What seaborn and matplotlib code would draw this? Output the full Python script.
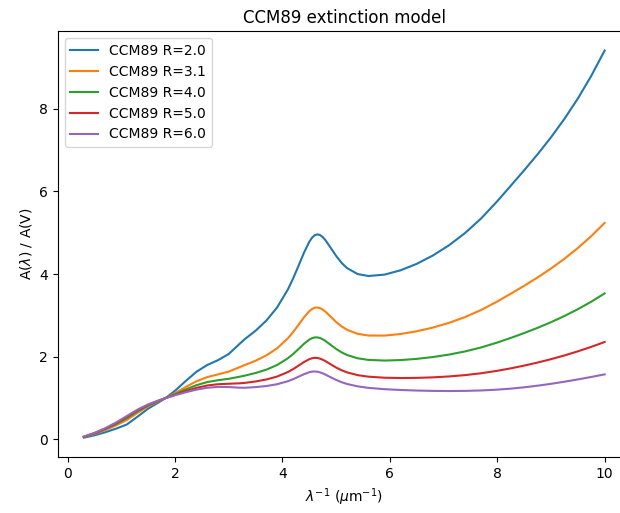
import matplotlib
matplotlib.use("Agg")
import matplotlib.pyplot as plt
import seaborn as sns
import numpy as np
import pandas as pd

# Inverse wavelength grid (1/micron)
wavenumber = [0.3, 0.5, 0.7, 0.9, 1.1, 1.3, 1.5, 1.7, 1.82, 2.0, 2.2, 2.4, 2.6, 2.8,
              3.0, 3.2, 3.3, 3.5, 3.7, 3.9, 4.1, 4.2, 4.3, 4.4, 4.5, 4.55, 4.6, 4.65,
              4.7, 4.75, 4.8, 4.9, 5.0, 5.1, 5.2, 5.4, 5.6, 5.9, 6.2, 6.5, 6.8, 7.1,
              7.4, 7.7, 8.0, 8.25, 8.5, 8.75, 9.0, 9.25, 9.5, 9.75, 10.0]

# A(lambda)/A(V) for each R_V
ext_r20 = [0.0447, 0.1017, 0.1749, 0.2621, 0.3620, 0.5522, 0.7483, 0.9019, 1.0, 1.1806,
           1.4173, 1.6401, 1.8028, 1.9190, 2.0688, 2.3118, 2.4293, 2.6313, 2.8765,
           3.1937, 3.6270, 3.8995, 4.2046, 4.5167, 4.7838, 4.8793, 4.9395, 4.9611,
           4.9447, 4.8953, 4.8209, 4.6321, 4.4385, 4.2735, 4.1476, 4.0011, 3.9541,
           3.9874, 4.0920, 4.2480, 4.4490, 4.6959, 4.9929, 5.3460, 5.7622, 6.1344,
           6.5086, 6.8957, 7.3065, 7.7521, 8.2434, 8.7914, 9.4070]
ext_r31 = [0.0582, 0.1323, 0.2275, 0.3410, 0.4710, 0.6430, 0.8018, 0.9266, 1.0, 1.1222,
           1.2715, 1.4090, 1.5093, 1.5747, 1.6425, 1.7482, 1.8023, 1.9053, 2.0338,
           2.2053, 2.4465, 2.6009, 2.7749, 2.9532, 3.1037, 3.1556, 3.1860, 3.1929,
           3.1768, 3.1411, 3.0906, 2.9670, 2.8425, 2.7368, 2.6551, 2.5553, 2.5142,
           2.5127, 2.5512, 2.6170, 2.7066, 2.8204, 2.9610, 3.1318, 3.3369, 3.5239,
           3.7160, 3.9178, 4.1341, 4.3695, 4.6289, 4.9169, 5.2384]
ext_r40 = [0.0637, 0.1449, 0.2490, 0.3732, 0.5156, 0.6802, 0.8237, 0.9368, 1.0, 1.0984,
           1.2118, 1.3145, 1.3892, 1.4338, 1.4682, 1.5177, 1.5458, 1.6083, 1.6891,
           1.8010, 1.9636, 2.0696, 2.1901, 2.3135, 2.4163, 2.4504, 2.4686, 2.4695,
           2.4537, 2.4235, 2.3828, 2.2858, 2.1897, 2.1081, 2.0446, 1.9638, 1.9251,
           1.9094, 1.9209, 1.9498, 1.9938, 2.0531, 2.1297, 2.2260, 2.3447, 2.4559,
           2.5736, 2.6996, 2.8363, 2.9857, 3.1502, 3.3319, 3.5330]
ext_r50 = [0.0675, 0.1535, 0.2639, 0.3955, 0.5463, 0.7058, 0.8387, 0.9438, 1.0, 1.0819,
           1.1707, 1.2494, 1.3064, 1.3367, 1.3481, 1.3588, 1.3691, 1.4036, 1.4516,
           1.5224, 1.6309, 1.7036, 1.7872, 1.8729, 1.9428, 1.9647, 1.9744, 1.9712,
           1.9554, 1.9291, 1.8951, 1.8166, 1.7399, 1.6750, 1.6240, 1.5564, 1.5193,
           1.4939, 1.4866, 1.4902, 1.5027, 1.5246, 1.5571, 1.6020, 1.6611, 1.7202,
           1.7866, 1.8604, 1.9422, 2.0324, 2.1316, 2.2400, 2.3582]
ext_r60 = [0.0700, 0.1593, 0.2738, 0.4103, 0.5668, 0.7229, 0.8488, 0.9484, 1.0, 1.0709,
           1.1433, 1.2060, 1.2513, 1.2720, 1.2680, 1.2530, 1.2513, 1.2672, 1.2933,
           1.3367, 1.4091, 1.4597, 1.5186, 1.5791, 1.6272, 1.6408, 1.6450, 1.6390,
           1.6233, 1.5995, 1.5700, 1.5037, 1.4400, 1.3863, 1.3436, 1.2848, 1.2488,
           1.2168, 1.1971, 1.1837, 1.1754, 1.1722, 1.1754, 1.1860, 1.2055, 1.2298,
           1.2619, 1.3009, 1.3462, 1.3969, 1.4525, 1.5121, 1.5750]

labels = ["CCM89 R=2.0", "CCM89 R=3.1", "CCM89 R=4.0", "CCM89 R=5.0", "CCM89 R=6.0"]
series = [ext_r20, ext_r31, ext_r40, ext_r50, ext_r60]

frames = [pd.DataFrame({"x": wavenumber, "y": vals, "model": lab})
          for lab, vals in zip(labels, series)]
df = pd.concat(frames, ignore_index=True)

fig = plt.figure(figsize=(6.2, 5.13), dpi=100)
ax = fig.add_axes([0.0932, 0.1092, 0.924, 0.830])

palette = sns.color_palette("tab10", 5)
sns.lineplot(data=df, x="x", y="y", hue="model", palette=palette,
             estimator=None, sort=False, linewidth=1.5, ax=ax)

ax.set_xlim(-0.185, 10.485)
ax.set_ylim(-0.423, 9.875)
ax.spines["right"].set_visible(False)

ax.set_title("CCM89 extinction model", fontsize=12)
ax.set_xlabel(r"$\lambda^{-1}$ ($\mu$m$^{-1}$)")
ax.set_ylabel(r"A($\lambda$) / A(V)")
ax.set_xticks([0, 2, 4, 6, 8, 10])
ax.set_yticks([0, 2, 4, 6, 8])
ax.legend(loc="upper left")

fig.savefig("out.png", dpi=100)
